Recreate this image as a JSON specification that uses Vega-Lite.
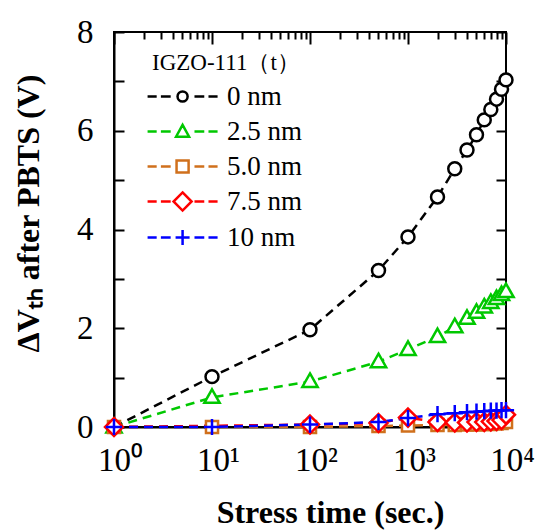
{
  "$schema": "https://vega.github.io/schema/vega-lite/v6.json",
  "autosize": "none",
  "padding": {"left": 114, "top": 32, "right": 33, "bottom": 103},
  "width": 392,
  "height": 395,
  "background": "white",
  "config": {
    "view": {"stroke": "black", "strokeWidth": 2},
    "axis": {
      "domainColor": "black", "domainWidth": 2, "tickColor": "black", "tickWidth": 2,
      "gridColor": "black", "gridWidth": 2, "gridOpacity": 1,
      "labelFont": "Liberation Serif", "labelFontSize": 33, "labelColor": "black",
      "titleFont": "Liberation Serif", "titleColor": "black", "titleFontWeight": "bold",
      "grid": false, "labelOverlap": false, "labelFlush": false
    },
    "legend": {
      "titleFont": "Liberation Serif", "titleFontSize": 23, "titleFontWeight": "normal", "titleColor": "black",
      "labelFont": "Liberation Serif", "labelFontSize": 27, "labelColor": "black",
      "symbolSize": 196, "symbolStrokeWidth": 2.5, "rowPadding": 7, "padding": 0, "labelOffset": 48, "titlePadding": 8
    }
  },
  "data": {"values": [
    {"s": "0 nm", "t": 1, "v": 0}, {"s": "0 nm", "t": 10, "v": 1.02}, {"s": "0 nm", "t": 100, "v": 1.97}, {"s": "0 nm", "t": 500, "v": 3.17}, {"s": "0 nm", "t": 1000, "v": 3.85}, {"s": "0 nm", "t": 2000, "v": 4.66}, {"s": "0 nm", "t": 3000, "v": 5.23}, {"s": "0 nm", "t": 4000, "v": 5.61}, {"s": "0 nm", "t": 5000, "v": 5.92}, {"s": "0 nm", "t": 6000, "v": 6.22}, {"s": "0 nm", "t": 7000, "v": 6.43}, {"s": "0 nm", "t": 8000, "v": 6.64}, {"s": "0 nm", "t": 9000, "v": 6.84}, {"s": "0 nm", "t": 10000, "v": 7.03},
    {"s": "2.5 nm", "t": 1, "v": 0}, {"s": "2.5 nm", "t": 10, "v": 0.6}, {"s": "2.5 nm", "t": 100, "v": 0.92}, {"s": "2.5 nm", "t": 500, "v": 1.32}, {"s": "2.5 nm", "t": 1000, "v": 1.57}, {"s": "2.5 nm", "t": 2000, "v": 1.83}, {"s": "2.5 nm", "t": 3000, "v": 2.03}, {"s": "2.5 nm", "t": 4000, "v": 2.2}, {"s": "2.5 nm", "t": 5000, "v": 2.32}, {"s": "2.5 nm", "t": 6000, "v": 2.43}, {"s": "2.5 nm", "t": 7000, "v": 2.52}, {"s": "2.5 nm", "t": 8000, "v": 2.6}, {"s": "2.5 nm", "t": 9000, "v": 2.68}, {"s": "2.5 nm", "t": 10000, "v": 2.74},
    {"s": "5.0 nm", "t": 1, "v": 0}, {"s": "5.0 nm", "t": 10, "v": 0}, {"s": "5.0 nm", "t": 100, "v": 0}, {"s": "5.0 nm", "t": 500, "v": 0.02}, {"s": "5.0 nm", "t": 1000, "v": 0.03}, {"s": "5.0 nm", "t": 2000, "v": 0.04}, {"s": "5.0 nm", "t": 3000, "v": 0.04}, {"s": "5.0 nm", "t": 4000, "v": 0.05}, {"s": "5.0 nm", "t": 5000, "v": 0.05}, {"s": "5.0 nm", "t": 6000, "v": 0.06}, {"s": "5.0 nm", "t": 7000, "v": 0.06}, {"s": "5.0 nm", "t": 8000, "v": 0.07}, {"s": "5.0 nm", "t": 9000, "v": 0.08}, {"s": "5.0 nm", "t": 10000, "v": 0.1},
    {"s": "7.5 nm", "t": 1, "v": 0}, {"s": "7.5 nm", "t": 100, "v": 0.05}, {"s": "7.5 nm", "t": 500, "v": 0.08}, {"s": "7.5 nm", "t": 1000, "v": 0.19}, {"s": "7.5 nm", "t": 2000, "v": 0.1}, {"s": "7.5 nm", "t": 3000, "v": 0.09}, {"s": "7.5 nm", "t": 4000, "v": 0.09}, {"s": "7.5 nm", "t": 5000, "v": 0.1}, {"s": "7.5 nm", "t": 6000, "v": 0.1}, {"s": "7.5 nm", "t": 7000, "v": 0.11}, {"s": "7.5 nm", "t": 8000, "v": 0.12}, {"s": "7.5 nm", "t": 9000, "v": 0.14}, {"s": "7.5 nm", "t": 10000, "v": 0.25},
    {"s": "10 nm", "t": 1, "v": 0}, {"s": "10 nm", "t": 10, "v": 0}, {"s": "10 nm", "t": 100, "v": 0.05}, {"s": "10 nm", "t": 500, "v": 0.1}, {"s": "10 nm", "t": 1000, "v": 0.18}, {"s": "10 nm", "t": 2000, "v": 0.26}, {"s": "10 nm", "t": 3000, "v": 0.28}, {"s": "10 nm", "t": 4000, "v": 0.3}, {"s": "10 nm", "t": 5000, "v": 0.31}, {"s": "10 nm", "t": 6000, "v": 0.32}, {"s": "10 nm", "t": 7000, "v": 0.33}, {"s": "10 nm", "t": 8000, "v": 0.33}, {"s": "10 nm", "t": 9000, "v": 0.34}, {"s": "10 nm", "t": 10000, "v": 0.34}
  ]},
  "layer": [
    {
      "mark": {"type": "line", "strokeDash": [9, 6], "strokeWidth": 2.5},
      "encoding": {
        "x": {"field": "t", "type": "quantitative",
          "scale": {"type": "log", "domain": [1, 10000], "nice": false},
          "axis": {
            "orient": "bottom",
            "values": [1, 10, 100, 1000, 10000],
            "labelExpr": "datum.value == 1 ? '10⁰' : datum.value == 10 ? '10¹' : datum.value == 100 ? '10²' : datum.value == 1000 ? '10³' : '10⁴'",
            "ticks": false, "grid": true, "gridDash": [12, 1000], "labelPadding": 17, "labelOffset": 6,
            "title": "Stress time (sec.)", "titleFontSize": 32, "titleX": 216, "titleY": 95, "titleBaseline": "alphabetic"
          }
        },
        "y": {"field": "v", "type": "quantitative",
          "scale": {"domain": [0, 8], "nice": false},
          "axis": {
            "orient": "left",
            "values": [0, 1, 2, 3, 4, 5, 6, 7, 8],
            "labelExpr": "datum.value % 2 == 0 ? datum.label : ''",
            "ticks": false, "grid": true, "gridDash": [10, 372, 10, 20], "labelPadding": 21,
            "title": "ΔVₜₕ after PBTS (V)", "titleFontSize": 32, "titleX": -76, "titleY": 181, "titleAngle": -90, "titleAlign": "center", "titleBaseline": "alphabetic"
          }
        },
        "color": {"field": "s", "type": "nominal",
          "scale": {"domain": ["0 nm", "2.5 nm", "5.0 nm", "7.5 nm", "10 nm"], "range": ["#000000", "#00c800", "#d0701c", "#ff0000", "#0000ff"]},
          "legend": null}
      }
    },
    {
      "mark": {"type": "point", "filled": true, "fill": "white", "strokeWidth": 2.5, "size": 324, "opacity": 1},
      "encoding": {
        "x": {"field": "t", "type": "quantitative", "scale": {"type": "log", "domain": [1, 10000], "nice": false},
          "axis": {"orient": "bottom", "values": [2,3,4,5,6,7,8,9,20,30,40,50,60,70,80,90,200,300,400,500,600,700,800,900,2000,3000,4000,5000,6000,7000,8000,9000], "labels": false, "domain": false, "ticks": false, "grid": true, "gridDash": [7, 1000], "title": null}},
        "y": {"field": "v", "type": "quantitative", "scale": {"domain": [0, 8], "nice": false}, "axis": null},
        "stroke": {"field": "s", "type": "nominal",
          "scale": {"domain": ["0 nm", "2.5 nm", "5.0 nm", "7.5 nm", "10 nm"], "range": ["#000000", "#00c800", "#d0701c", "#ff0000", "#0000ff"]},
          "legend": null},
        "shape": {"field": "s", "type": "nominal",
          "scale": {"domain": ["0 nm", "2.5 nm", "5.0 nm", "7.5 nm", "10 nm"], "range": [
            "M-0.72,0A0.72,0.72 0 1,1 0.72,0A0.72,0.72 0 1,1 -0.72,0Z",
            "M0,-0.9L0.85,0.6L-0.85,0.6Z",
            "M-0.67,-0.67H0.67V0.67H-0.67Z",
            "M0,-1L1,0L0,1L-1,0Z",
            "M-0.9,0H0.9M0,-0.9V0.9"
          ]},
          "legend": null}
      }
    },
    {
      "mark": {"type": "point", "filled": false, "opacity": 0, "strokeWidth": 2.5},
      "encoding": {
        "x": {"field": "t", "type": "quantitative", "scale": {"type": "log", "domain": [1, 10000], "nice": false}, "axis": null},
        "y": {"field": "v", "type": "quantitative", "scale": {"domain": [0, 8], "nice": false}, "axis": null},
        "color": {"field": "s", "type": "nominal",
          "scale": {"domain": ["0 nm", "2.5 nm", "5.0 nm", "7.5 nm", "10 nm"], "range": ["#000000", "#00c800", "#d0701c", "#ff0000", "#0000ff"]},
          "legend": {"title": "IGZO-111（t）", "orient": "none", "legendX": 38, "legendY": 20}},
        "shape": {"field": "s", "type": "nominal",
          "scale": {"domain": ["0 nm", "2.5 nm", "5.0 nm", "7.5 nm", "10 nm"], "range": [
            "M-2.56,0H-1.26M-0.66,0H0.74M4.14,0H5.54M6.14,0H7.44M1.72,0A0.72,0.72 0 1,1 3.16,0A0.72,0.72 0 1,1 1.72,0Z",
            "M-2.56,0H-1.26M-0.66,0H0.74M4.14,0H5.54M6.14,0H7.44M2.44,-0.95L3.37,0.75L1.51,0.75Z",
            "M-2.56,0H-1.26M-0.66,0H0.74M4.14,0H5.54M6.14,0H7.44M1.58,-0.86H3.3V0.86H1.58Z",
            "M-2.56,0H-1.26M-0.66,0H0.74M4.14,0H5.54M6.14,0H7.44M2.44,-1.29L3.73,0L2.44,1.29L1.15,0Z",
            "M-2.56,0H-1.26M-0.66,0H0.74M4.14,0H5.54M6.14,0H7.44M1.44,0H3.44M2.44,-1.07V1.07"
          ]},
          "legend": {"title": "IGZO-111（t）", "orient": "none", "legendX": 38, "legendY": 20}}
      }
    }
  ],
  "resolve": {"scale": {"color": "independent", "shape": "independent"}, "axis": {"x": "independent", "y": "independent"}}
}
